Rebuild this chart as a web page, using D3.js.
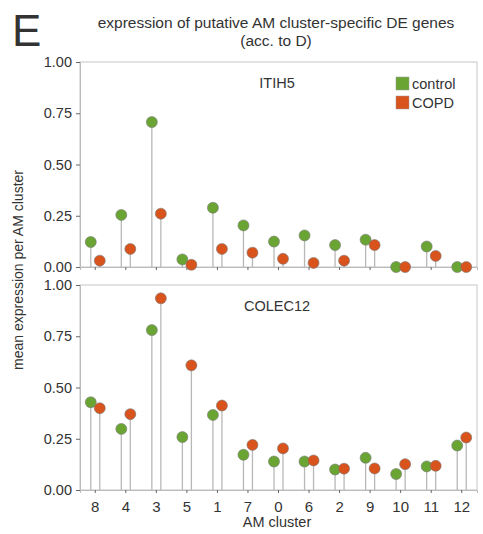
<!DOCTYPE html>
<html>
<head>
<meta charset="utf-8">
<script src="https://cdn.jsdelivr.net/npm/d3@7"></script>
<style>
body{margin:0;background:#fff}
text{font-family:"Liberation Sans",Arial,sans-serif;fill:#333}
</style>
</head>
<body>
<svg id="chart" width="483" height="534"></svg>
<script>
// AM clusters in plot order
let clusters = ['8','4','3','5','1','7','0','6','2','9','10','11','12']
let groups = ['control','COPD']
let colors = ['#6aa534','#d9531c']

let itih5Control = [0.122,0.254,0.707,0.037,0.289,0.203,0.124,0.154,0.107,0.133,0.0,0.10,0.0]
let itih5Copd    = [0.031,0.088,0.26,0.011,0.088,0.07,0.04,0.02,0.031,0.107,0.0,0.054,0.0]
let colecControl = [0.428,0.298,0.78,0.258,0.366,0.172,0.139,0.139,0.10,0.157,0.078,0.115,0.217]
let colecCopd    = [0.399,0.37,0.935,0.608,0.412,0.22,0.203,0.144,0.104,0.105,0.126,0.118,0.256]
let yTicks = [0,0.25,0.5,0.75,1]

let panels = [
  {gene:'ITIH5', top:62, vals:[itih5Control,itih5Copd], legend:true, labels:false},
  {gene:'COLEC12', top:285, vals:[colecControl,colecCopd], legend:false, labels:true}
]

let left = 80, right = 477, ph = 205

let svg = d3.select('#chart')

let x = d3.scaleBand().domain(clusters).range([left,right])
let offset = [-4.5,4.5]

panels.forEach(p => {
  let y = d3.scaleLinear().domain([0,1]).range([p.top+ph,p.top])
  let g = svg.append('g')

  // frame
  g.append('rect').attr('x',left).attr('y',p.top).attr('width',right-left).attr('height',ph)
    .attr('fill','none').attr('stroke','#cfcfcf').attr('stroke-width',1.2)

  let yAxis = g.append('g').attr('transform','translate('+left+',0)')
    .call(d3.axisLeft(y).tickValues(yTicks).tickFormat(d3.format('.2f')).tickSize(4))
  yAxis.select('.domain').attr('stroke','#bbb')
  yAxis.selectAll('.tick line').attr('stroke','#666')
  yAxis.selectAll('text').style('font-size','14.5px').attr('fill','#444').attr('dx','-1')

  let xAxis = g.append('g').attr('transform','translate(0,'+(p.top+ph)+')')
    .call(d3.axisBottom(x).tickSize(3).tickFormat(p.labels ? d => d : ''))
  xAxis.select('.domain').attr('stroke','#bbb')
  xAxis.selectAll('.tick line').attr('stroke','#666')
  xAxis.selectAll('text').style('font-size','15px').attr('fill','#444').attr('dy','1.05em')

  g.append('text').attr('x',277).attr('y',p.top+26).attr('text-anchor','middle')
    .style('font-size','14.5px').text(p.gene)

  groups.forEach((grp,gi) => {
    let data = clusters.map((c,i) => ({c:c, v:p.vals[gi][i]}))
    let cx = d => x(d.c) + x.bandwidth()/2 + offset[gi]
    g.selectAll('line.stem'+gi).data(data).enter().append('line')
      .attr('x1',cx).attr('x2',cx)
      .attr('y1',y(0)).attr('y2',d => y(d.v))
      .attr('stroke','#b8b8b8').attr('stroke-width',1.3)
  })
  groups.forEach((grp,gi) => {
    let data = clusters.map((c,i) => ({c:c, v:p.vals[gi][i]}))
    let cx = d => x(d.c) + x.bandwidth()/2 + offset[gi]
    g.selectAll('circle.dot'+gi).data(data).enter().append('circle')
      .attr('cx',cx).attr('cy',d => y(d.v)).attr('r',5.5)
      .attr('fill',colors[gi]).attr('stroke','#777').attr('stroke-width',0.6)
  })

  if (p.legend) {
    groups.forEach((grp,gi) => {
      g.append('rect').attr('x',396).attr('y',p.top+15+gi*19).attr('width',13).attr('height',13)
        .attr('fill',colors[gi]).attr('stroke','#999').attr('stroke-width',0.5)
      g.append('text').attr('x',412).attr('y',p.top+27+gi*19).style('font-size','14.5px').text(grp)
    })
  }
})

svg.append('text').attr('x',12).attr('y',46).style('font-size','44px').attr('fill','#222').text('E')
svg.append('text').attr('x',276).attr('y',28).attr('text-anchor','middle').style('font-size','15.5px')
  .text('expression of putative AM cluster-specific DE genes')
svg.append('text').attr('x',276).attr('y',46).attr('text-anchor','middle').style('font-size','15.5px')
  .text('(acc. to D)')
svg.append('text').attr('transform','translate(23,270) rotate(-90)').attr('text-anchor','middle')
  .style('font-size','14px').text('mean expression per AM cluster')
svg.append('text').attr('x',277).attr('y',527).attr('text-anchor','middle').style('font-size','14.5px')
  .text('AM cluster')
</script>
</body>
</html>
